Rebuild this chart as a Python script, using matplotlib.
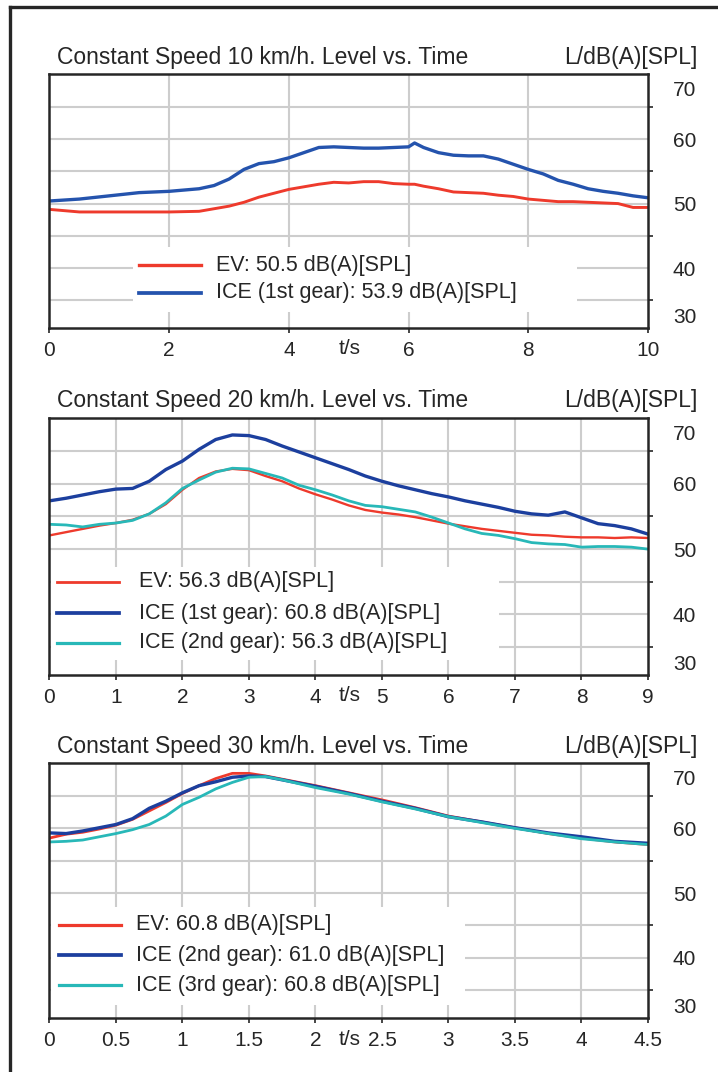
import matplotlib
matplotlib.use("Agg")
import matplotlib.pyplot as plt
from matplotlib.lines import Line2D
from matplotlib.patches import Rectangle
import matplotlib.transforms as mtransforms

plt.rcParams['font.family'] = ['Liberation Sans', 'DejaVu Sans']

RED = '#ee3a2c'
BLUE = '#2453ad'
DBLUE = '#1c3f9e'
CYAN = '#28b8b8'
GRID = '#cdcdcd'
INK = '#262626'

# ---- 10 km/h ----
t10 = [0, 0.5, 1, 1.5, 2, 2.5, 2.75, 3, 3.25, 3.5, 3.75, 4, 4.25, 4.5, 4.75, 5,
       5.25, 5.5, 5.75, 6, 6.1, 6.25, 6.5, 6.75, 7, 7.25, 7.5, 7.75, 8, 8.25,
       8.5, 8.75, 9, 9.25, 9.5, 9.75, 10]
ice10_1st = [50.4, 50.7, 51.2, 51.7, 51.9, 52.3, 52.8, 53.8, 55.3, 56.2, 56.5, 57.1,
             57.9, 58.7, 58.8, 58.7, 58.6, 58.6, 58.7, 58.8, 59.4, 58.7, 57.9, 57.5,
             57.4, 57.4, 56.9, 56.1, 55.3, 54.6, 53.6, 53.0, 52.3, 51.9, 51.6, 51.2, 50.9]
ev10 = [49.1, 48.7, 48.7, 48.7, 48.7, 48.8, 49.2, 49.6, 50.2, 51.0, 51.6, 52.2,
        52.6, 53.0, 53.3, 53.2, 53.4, 53.4, 53.1, 53.0, 53.0, 52.7, 52.3, 51.8,
        51.7, 51.6, 51.3, 51.1, 50.7, 50.5, 50.3, 50.3, 50.2, 50.1, 50.0, 49.4, 49.4]

# ---- 20 km/h ----
t20 = [0, 0.25, 0.5, 0.75, 1, 1.25, 1.5, 1.75, 2, 2.25, 2.5, 2.75, 3, 3.25, 3.5,
       3.75, 4, 4.25, 4.5, 4.75, 5, 5.25, 5.5, 5.75, 6, 6.25, 6.5, 6.75, 7, 7.25,
       7.5, 7.75, 8, 8.25, 8.5, 8.75, 9]
ev20 = [52.1, 52.6, 53.1, 53.6, 54.0, 54.5, 55.4, 56.9, 59.1, 60.9, 61.9, 62.3,
        62.1, 61.2, 60.4, 59.3, 58.4, 57.6, 56.7, 56.0, 55.6, 55.3, 54.9, 54.4,
        53.9, 53.5, 53.1, 52.8, 52.5, 52.2, 52.1, 51.9, 51.8, 51.8, 51.7, 51.8, 51.7]
ice20_1st = [57.4, 57.8, 58.3, 58.8, 59.2, 59.3, 60.4, 62.2, 63.5, 65.3, 66.8, 67.5,
             67.4, 66.8, 65.8, 64.9, 64.0, 63.1, 62.2, 61.2, 60.4, 59.7, 59.1, 58.5,
             58.0, 57.4, 56.9, 56.4, 55.8, 55.4, 55.2, 55.7, 54.8, 53.9, 53.6, 53.1, 52.3]
ice20_2nd = [53.8, 53.7, 53.4, 53.8, 54.0, 54.4, 55.4, 57.1, 59.3, 60.6, 61.8, 62.4,
             62.3, 61.6, 60.9, 59.8, 59.1, 58.3, 57.4, 56.7, 56.5, 56.1, 55.7, 54.9,
             54.0, 53.1, 52.4, 52.1, 51.6, 51.0, 50.8, 50.7, 50.3, 50.4, 50.4, 50.3, 50.0]

# ---- 30 km/h ----
t30 = [0, 0.125, 0.25, 0.375, 0.5, 0.625, 0.75, 0.875, 1, 1.125, 1.25, 1.375, 1.5,
       1.625, 1.75, 2, 2.25, 2.5, 2.75, 3, 3.25, 3.5, 3.75, 4, 4.25, 4.5]
ev30 = [58.5, 59.1, 59.4, 59.9, 60.5, 61.4, 62.7, 64.0, 65.4, 66.6, 67.7, 68.5, 68.5,
        68.1, 67.6, 66.6, 65.5, 64.4, 63.2, 61.9, 61.0, 60.1, 59.2, 58.5, 57.9, 57.5]
ice30_2nd = [59.3, 59.2, 59.6, 60.1, 60.6, 61.5, 63.1, 64.2, 65.5, 66.6, 67.2, 67.9,
             68.1, 68.0, 67.5, 66.5, 65.4, 64.2, 63.1, 61.8, 61.0, 60.1, 59.3, 58.7,
             58.0, 57.7]
ice30_3rd = [57.9, 58.0, 58.2, 58.7, 59.2, 59.8, 60.6, 61.9, 63.7, 64.8, 66.1, 67.1,
             67.9, 68.0, 67.5, 66.3, 65.3, 64.1, 63.0, 61.8, 60.9, 60.0, 59.2, 58.4,
             57.9, 57.5]

titles = ["Constant Speed 10 km/h. Level vs. Time",
          "Constant Speed 20 km/h. Level vs. Time",
          "Constant Speed 30 km/h. Level vs. Time"]
unit_label = "L/dB(A)[SPL]"
time_label = "t/s"

xticks10 = [0, 2, 4, 6, 8, 10]
xticks20 = [0, 1, 2, 3, 4, 5, 6, 7, 8, 9]
xticks30 = [0, 0.5, 1, 1.5, 2, 2.5, 3, 3.5, 4, 4.5]
xticklabels30 = ['0', '0.5', '1', '1.5', '2', '2.5', '3', '3.5', '4', '4.5']

ylabels = ['30', '40', '50', '60', '70']
ylabel_pos = [32.6, 40, 50, 60, 67.8]
ygrid = [35, 40, 45, 50, 55, 60, 65]

panels = [
    dict(t=t10, series=[(ev10, "EV: 50.5 dB(A)[SPL]", RED, 2.1),
                        (ice10_1st, "ICE (1st gear): 53.9 dB(A)[SPL]", BLUE, 2.4)],
         xticks=xticks10, xlabels=[str(v) for v in xticks10], xmax=10,
         rect=[0.0689, 0.69403, 0.8336, 0.23694],
         leg_box=(0.139, 0.063, 0.742, 0.256), leg_rows=[0.248, 0.138],
         leg_handle=(0.150, 0.2525), leg_text=0.279),
    dict(t=t20, series=[(ev20, "EV: 56.3 dB(A)[SPL]", RED, 1.7),
                        (ice20_1st, "ICE (1st gear): 60.8 dB(A)[SPL]", DBLUE, 2.4),
                        (ice20_2nd, "ICE (2nd gear): 56.3 dB(A)[SPL]", CYAN, 2.0)],
         xticks=xticks20, xlabels=[str(v) for v in xticks20], xmax=9,
         rect=[0.0689, 0.37034, 0.8336, 0.23974],
         leg_box=(0.003, 0.058, 0.748, 0.362), leg_rows=[0.362, 0.241, 0.125],
         leg_handle=(0.012, 0.117), leg_text=0.150),
    dict(t=t30, series=[(ev30, "EV: 60.8 dB(A)[SPL]", RED, 2.0),
                        (ice30_2nd, "ICE (2nd gear): 61.0 dB(A)[SPL]", DBLUE, 2.4),
                        (ice30_3rd, "ICE (3rd gear): 60.8 dB(A)[SPL]", CYAN, 2.0)],
         xticks=xticks30, xlabels=xticklabels30, xmax=4.5,
         rect=[0.0689, 0.05037, 0.8336, 0.23787],
         leg_box=(0.003, 0.051, 0.691, 0.384), leg_rows=[0.365, 0.247, 0.129],
         leg_handle=(0.016, 0.119), leg_text=0.145),
]

fig = plt.figure(figsize=(7.18, 10.72), dpi=100)

# outer frame (top and left edges)
fig.add_artist(Line2D([10 / 718, 10 / 718], [0, 1 - 7 / 1072], transform=fig.transFigure,
                      color=INK, lw=2.4))
fig.add_artist(Line2D([10 / 718, 1], [1 - 7 / 1072, 1 - 7 / 1072], transform=fig.transFigure,
                      color=INK, lw=2.4))

for p, title in zip(panels, titles):
    ax = fig.add_axes(p['rect'])
    ax.set_xlim(0, p['xmax'])
    ax.set_ylim(30.7, 70.1)

    for g in ygrid:
        ax.axhline(g, color=GRID, lw=1.5, zorder=0.5)
    for xv in p['xticks'][1:-1]:
        ax.axvline(xv, color=GRID, lw=1.5, zorder=0.5)

    bx, by, bw, bh = p['leg_box']
    ax.add_patch(Rectangle((bx, by), bw, bh, transform=ax.transAxes,
                           facecolor='white', edgecolor='none', zorder=1))

    for ys, name, col, lw in p['series']:
        ax.plot(p['t'], ys, color=col, lw=lw, zorder=2)

    h0, h1 = p['leg_handle']
    for (ys, name, col, lw), ry in zip(p['series'], p['leg_rows']):
        ax.add_line(Line2D([h0, h1], [ry, ry], transform=ax.transAxes, color=col,
                           lw=lw + 0.3, zorder=3))
        ax.text(p['leg_text'], ry, name, transform=ax.transAxes, fontsize=15.5,
                color=INK, va='center', ha='left', zorder=3)

    for s in ax.spines.values():
        s.set_color(INK)
        s.set_linewidth(1.8)

    ax.set_xticks(p['xticks'])
    ax.set_xticklabels(p['xlabels'])
    ax.tick_params(axis='x', direction='out', length=3.5, width=1.2, color=INK,
                   labelsize=15, labelcolor=INK, pad=6)

    ax.yaxis.tick_right()
    ax.set_yticks(ylabel_pos)
    ax.set_yticklabels(ylabels)
    ax.set_yticks(ygrid, minor=True)
    ax.tick_params(axis='y', which='major', length=0, labelsize=15, labelcolor=INK, pad=18)
    ax.tick_params(axis='y', which='minor', direction='out', length=3.5, width=1.2,
                   color=INK, right=True, left=False)

    off = mtransforms.offset_copy(ax.transAxes, fig=fig, x=0, y=17, units='dots')
    ax.text(0.0134, 1.0, title, transform=off, fontsize=16.5, color=INK,
            ha='left', va='center')
    ax.text(1.082, 1.0, unit_label, transform=off, fontsize=16.5, color=INK,
            ha='right', va='center')
    offb = mtransforms.offset_copy(ax.transAxes, fig=fig, x=0, y=-21, units='dots')
    ax.text(0.502, 0.0, time_label, transform=offb, fontsize=15, color=INK,
            ha='center', va='center')

fig.savefig('out.png', dpi=100, facecolor='white')
